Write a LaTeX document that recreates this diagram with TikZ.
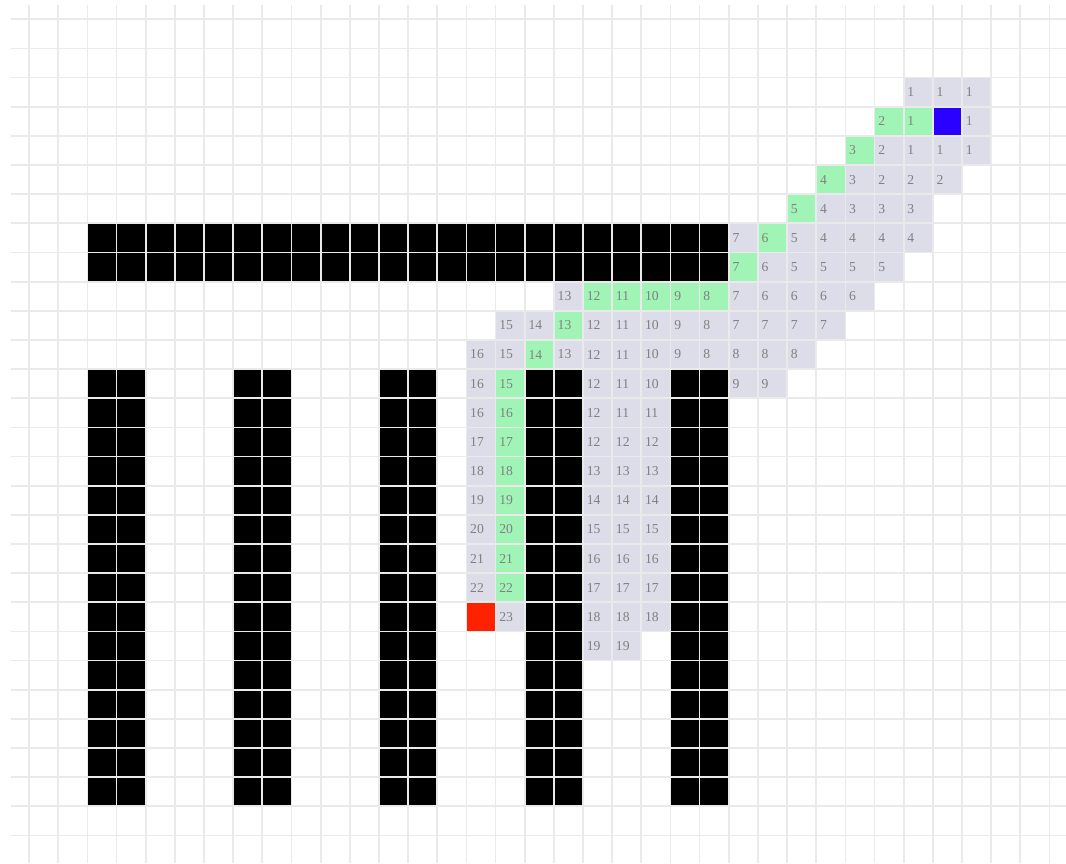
\documentclass[tikz,border=0pt]{standalone}
\usepackage{fontspec}
\setmainfont{Liberation Serif}

\definecolor{seengray}{RGB}{221,221,233}
\definecolor{trailgreen}{RGB}{160,245,182}
\definecolor{startblue}{RGB}{42,0,255}
\definecolor{goalred}{RGB}{255,34,0}
\definecolor{numgray}{RGB}{128,128,128}
\definecolor{linegray}{RGB}{234,234,234}

\begin{document}
\begin{tikzpicture}[x=0.6cm, y=0.6cm,
        cell/.style={rectangle, minimum width=0.6cm, minimum height=0.6cm, inner xsep=2.2pt, inner ysep=0pt,
            text width=12.6pt, align=left, font=\fontsize{8}{8}\selectfont, text=numgray},
        seen/.style={cell, fill=seengray},
        trail/.style={cell, fill=trailgreen},
        wall/.style={fill=black},
        gridline/.style={draw=linegray, line width=1pt}
    ]
        \useasboundingbox (0,0.662) rectangle (36.57,-28.944);

        % Walls
        \fill[wall] (3,-7) rectangle (25,-9);
        \foreach \x in {3,8,13,18,23}
            \fill[wall] (\x,-12) rectangle (\x+2,-27);

        % Explored cells with their distance
        \foreach \c/\r/\v in {31/2/1, 32/2/1, 33/2/1, 33/3/1,
                30/4/2, 31/4/1, 32/4/1, 33/4/1,
                29/5/3, 30/5/2, 31/5/2, 32/5/2,
                28/6/4, 29/6/3, 30/6/3, 31/6/3,
                25/7/7, 27/7/5, 28/7/4, 29/7/4, 30/7/4, 31/7/4,
                26/8/6, 27/8/5, 28/8/5, 29/8/5, 30/8/5,
                19/9/13, 25/9/7, 26/9/6, 27/9/6, 28/9/6, 29/9/6,
                17/10/15, 18/10/14, 20/10/12, 21/10/11, 22/10/10, 23/10/9, 24/10/8, 25/10/7, 26/10/7, 27/10/7, 28/10/7,
                16/11/16, 17/11/15, 19/11/13, 20/11/12, 21/11/11, 22/11/10, 23/11/9, 24/11/8, 25/11/8, 26/11/8, 27/11/8,
                16/12/16, 20/12/12, 21/12/11, 22/12/10, 25/12/9, 26/12/9,
                16/13/16, 20/13/12, 21/13/11, 22/13/11,
                16/14/17, 20/14/12, 21/14/12, 22/14/12,
                16/15/18, 20/15/13, 21/15/13, 22/15/13,
                16/16/19, 20/16/14, 21/16/14, 22/16/14,
                16/17/20, 20/17/15, 21/17/15, 22/17/15,
                16/18/21, 20/18/16, 21/18/16, 22/18/16,
                16/19/22, 20/19/17, 21/19/17, 22/19/17,
                17/20/23, 20/20/18, 21/20/18, 22/20/18,
                20/21/19, 21/21/19}
            \node[seen] (s-\c-\r) at (\c+0.5,-\r-0.5) {\v};

        % Cells on the found path
        \foreach \c/\r/\v in {31/3/1, 30/3/2, 29/4/3, 28/5/4, 27/6/5, 26/7/6, 25/8/7,
                24/9/8, 23/9/9, 22/9/10, 21/9/11, 20/9/12, 19/10/13, 18/11/14,
                17/12/15, 17/13/16, 17/14/17, 17/15/18, 17/16/19, 17/17/20, 17/18/21, 17/19/22}
            \node[trail] (t-\c-\r) at (\c+0.5,-\r-0.5) {\v};

        % Start and goal
        \node[cell, fill=startblue] (start) at (32.5,-3.5) {};
        \node[cell, fill=goalred] (goal) at (16.5,-20.5) {};

        % Grid
        \foreach \x in {1,...,36}
            \draw[gridline] (\x,0.49) -- (\x,-28.944);
        \foreach \y in {0,...,28}
            \draw[gridline] (0.377,-\y) -- (36.57,-\y);

    \end{tikzpicture}
\end{document}
